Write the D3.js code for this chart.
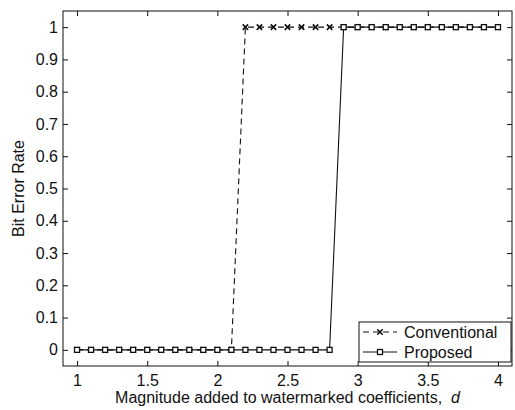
<!DOCTYPE html>
<html>
<head>
<meta charset="utf-8">
<script src="https://cdn.jsdelivr.net/npm/d3@7"></script>
<style>
  body { margin: 0; background: #fff; }
  text { font-family: "Liberation Sans", Arial, sans-serif; fill: #111; }
</style>
</head>
<body>
<div id="chart"></div>
<script>
const svgWidth = 515;
const svgHeight = 410;

// chart data
const magnitude = [1, 1.1, 1.2, 1.3, 1.4, 1.5, 1.6, 1.7, 1.8, 1.9, 2, 2.1, 2.2, 2.3, 2.4, 2.5,
  2.6, 2.7, 2.8, 2.9, 3, 3.1, 3.2, 3.3, 3.4, 3.5, 3.6, 3.7, 3.8, 3.9, 4];
const conventional = [0, 0, 0, 0, 0, 0, 0, 0, 0, 0, 0, 0, 1, 1, 1, 1,
  1, 1, 1, 1, 1, 1, 1, 1, 1, 1, 1, 1, 1, 1, 1];
const proposed = [0, 0, 0, 0, 0, 0, 0, 0, 0, 0, 0, 0, 0, 0, 0, 0,
  0, 0, 0, 1, 1, 1, 1, 1, 1, 1, 1, 1, 1, 1, 1];
const xTicks = [1, 1.5, 2, 2.5, 3, 3.5, 4];
const yTicks = [0, 0.1, 0.2, 0.3, 0.4, 0.5, 0.6, 0.7, 0.8, 0.9, 1];
const seriesNames = ["Conventional", "Proposed"];

const margin = { top: 11, right: 3, bottom: 44, left: 63 };
const width = svgWidth - margin.left - margin.right;
const height = svgHeight - margin.top - margin.bottom;
const fontSize = "16px";

var svg = d3.select("#chart")
  .append("svg")
  .attr("width", svgWidth)
  .attr("height", svgHeight);

var chartGroup = svg.append("g")
  .attr("transform", `translate(${margin.left}, ${margin.top})`);

var x = d3.scaleLinear().domain([0.9, 4.1]).range([0, width]);
var y = d3.scaleLinear().domain([-0.05, 1.05]).range([height, 0]);

// inward ticks on all four sides, like a matlab box
function styleAxis(g) {
  g.select(".domain").remove();
  g.selectAll("line").attr("stroke", "#111");
  g.selectAll("text").style("font-size", fontSize);
}

chartGroup.append("g")
  .attr("transform", `translate(0, ${height})`)
  .call(d3.axisBottom(x).tickValues(xTicks).tickSizeInner(-5).tickPadding(9).tickFormat(d3.format("")))
  .call(styleAxis);

chartGroup.append("g")
  .call(d3.axisTop(x).tickValues(xTicks).tickSizeInner(-5).tickFormat(""))
  .call(styleAxis);

chartGroup.append("g")
  .call(d3.axisLeft(y).tickValues(yTicks).tickSizeInner(-5).tickPadding(5).tickFormat(d3.format("")))
  .call(styleAxis);

chartGroup.append("g")
  .attr("transform", `translate(${width}, 0)`)
  .call(d3.axisRight(y).tickValues(yTicks).tickSizeInner(-5).tickFormat(""))
  .call(styleAxis);

chartGroup.append("rect")
  .attr("width", width)
  .attr("height", height)
  .attr("fill", "none")
  .attr("stroke", "#111")
  .attr("stroke-width", 1);

var line = d3.line()
  .x(d => x(d[0]))
  .y(d => y(d[1]));

var convData = magnitude.map((m, i) => [m, conventional[i]]);
var propData = magnitude.map((m, i) => [m, proposed[i]]);

// conventional: dashed with x markers
chartGroup.append("path")
  .datum(convData)
  .attr("d", line)
  .attr("fill", "none")
  .attr("stroke", "#111")
  .attr("stroke-width", 1.1)
  .attr("stroke-dasharray", "6,4");

function crossMark(g, cx, cy) {
  g.append("path")
    .attr("d", `M${cx - 2.7},${cy - 2.7}L${cx + 2.7},${cy + 2.7}M${cx - 2.7},${cy + 2.7}L${cx + 2.7},${cy - 2.7}`)
    .attr("stroke", "#111")
    .attr("stroke-width", 1.6);
}

var convMarks = chartGroup.append("g");
convData.forEach(d => crossMark(convMarks, x(d[0]), y(d[1])));

// proposed: solid with open squares
chartGroup.append("path")
  .datum(propData)
  .attr("d", line)
  .attr("fill", "none")
  .attr("stroke", "#111")
  .attr("stroke-width", 1.1);

chartGroup.selectAll(".sq")
  .data(propData)
  .enter()
  .append("rect")
  .attr("class", "sq")
  .attr("x", d => x(d[0]) - 2.5)
  .attr("y", d => y(d[1]) - 2.5)
  .attr("width", 5)
  .attr("height", 5)
  .attr("fill", "#fff")
  .attr("stroke", "#111")
  .attr("stroke-width", 1.3);

// axis labels
svg.append("text")
  .attr("x", margin.left + width / 2)
  .attr("y", 403)
  .attr("text-anchor", "middle")
  .style("font-size", fontSize)
  .html('Magnitude added to watermarked coefficients,&#160;&#160;<tspan font-style="italic">d</tspan>');

svg.append("text")
  .attr("transform", `translate(24, ${margin.top + height / 2}) rotate(-90)`)
  .attr("text-anchor", "middle")
  .style("font-size", fontSize)
  .text("Bit Error Rate");

// legend
var legend = svg.append("g").attr("transform", "translate(359, 322)");
legend.append("rect")
  .attr("width", 152)
  .attr("height", 40)
  .attr("fill", "#fff")
  .attr("stroke", "#111");

legend.append("line")
  .attr("x1", 4).attr("x2", 38).attr("y1", 10).attr("y2", 10)
  .attr("stroke", "#111").attr("stroke-dasharray", "6,4");
crossMark(legend, 21, 10);
legend.append("text").attr("x", 45).attr("y", 16).style("font-size", fontSize).text(seriesNames[0]);

legend.append("line")
  .attr("x1", 4).attr("x2", 38).attr("y1", 30).attr("y2", 30)
  .attr("stroke", "#111");
legend.append("rect")
  .attr("x", 18.5).attr("y", 27.5).attr("width", 5).attr("height", 5)
  .attr("fill", "#fff").attr("stroke", "#111").attr("stroke-width", 1.3);
legend.append("text").attr("x", 45).attr("y", 36).style("font-size", fontSize).text(seriesNames[1]);
</script>
</body>
</html>
